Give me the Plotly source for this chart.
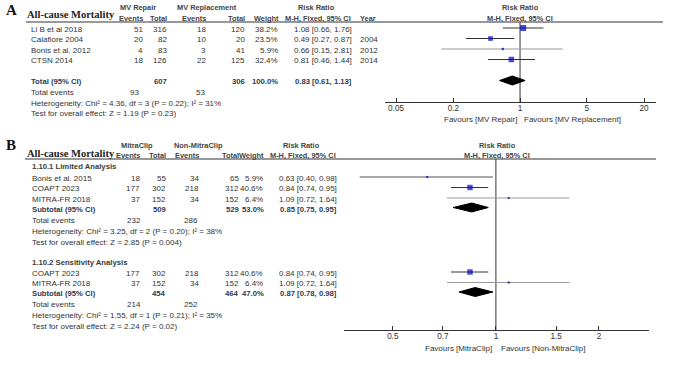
import math
import plotly.graph_objects as go

W, H = 686, 365
SANS = "Liberation Sans, Arial, sans-serif"
SERIF = "Liberation Serif, Times New Roman, serif"
TXT = "#333333"
TOT = "#2e3a52"
HDR = "#444444"
BLUE = "#0000c8"
FS = 8.0     # body font size
HS = 7.4     # bold header font size
BS = 7.7     # bold total-row font size

# ---------------- Panel A data ----------------
A_studies = ["Li B et al 2018", "Calafiore 2004", "Bonis et al. 2012", "CTSN 2014"]
A_ev1 = [51, 20, 4, 18]
A_tot1 = [316, 82, 83, 126]
A_ev2 = [18, 10, 3, 22]
A_tot2 = [120, 20, 41, 125]
A_weight = [38.2, 23.5, 5.9, 32.4]
A_rr = [1.08, 0.49, 0.66, 0.81]
A_lo = [0.66, 0.27, 0.15, 0.46]
A_hi = [1.76, 0.87, 2.81, 1.44]
A_year = ["", "2004", "2012", "2014"]
A_total = {"tot1": 607, "tot2": 306, "weight": 100.0, "rr": 0.83, "lo": 0.61, "hi": 1.13,
           "ev1": 93, "ev2": 53}
A_het = "Heterogeneity: Chi² = 4.36, df = 3 (P = 0.22); I² = 31%"
A_test = "Test for overall effect: Z = 1.19 (P = 0.23)"
A_ticks = [0.05, 0.2, 1, 5, 20]
A_ticklabels = ["0.05", "0.2", "1", "5", "20"]

# ---------------- Panel B data ----------------
B1_studies = ["Bonis et al. 2015", "COAPT 2023", "MITRA-FR 2018"]
B1_ev1 = [18, 177, 37]
B1_tot1 = [55, 302, 152]
B1_ev2 = [34, 218, 34]
B1_tot2 = [65, 312, 152]
B1_weight = [5.9, 40.6, 6.4]
B1_rr = [0.63, 0.84, 1.09]
B1_lo = [0.40, 0.74, 0.72]
B1_hi = [0.98, 0.95, 1.64]
B1_sub = {"tot1": 509, "tot2": 529, "weight": 53.0, "rr": 0.85, "lo": 0.75, "hi": 0.95,
          "ev1": 232, "ev2": 286}
B1_het = "Heterogeneity: Chi² = 3.25, df = 2 (P = 0.20); I² = 38%"
B1_test = "Test for overall effect: Z = 2.85 (P = 0.004)"

B2_studies = ["COAPT 2023", "MITRA-FR 2018"]
B2_ev1 = [177, 37]
B2_tot1 = [302, 152]
B2_ev2 = [218, 34]
B2_tot2 = [312, 152]
B2_weight = [40.6, 6.4]
B2_rr = [0.84, 1.09]
B2_lo = [0.74, 0.72]
B2_hi = [0.95, 1.64]
B2_sub = {"tot1": 454, "tot2": 464, "weight": 47.0, "rr": 0.87, "lo": 0.78, "hi": 0.98,
          "ev1": 214, "ev2": 252}
B2_het = "Heterogeneity: Chi² = 1.55, df = 1 (P = 0.21); I² = 35%"
B2_test = "Test for overall effect: Z = 2.24 (P = 0.02)"
B_ticks = [0.5, 0.7, 1, 1.5, 2]
B_ticklabels = ["0.5", "0.7", "1", "1.5", "2"]

# ---------------- layout (pixel rows / columns) ----------------
A_rows = [29, 39.5, 50, 60.5]
A_total_row = 81.5
A_axis_y = 102
A_top_y = 22
B1_rows = [178, 188.5, 199]
B1_sub_row = 209
B2_rows = [273, 283.5]
B2_sub_row = 293.5
B_top_y = 159
B_axis_y = 330

A_line_col = ["#333333", "#333333", "#999999", "#333333"]
B1_line_col = ["#555555", "#333333", "#999999"]
B2_line_col = ["#333333", "#999999"]

fig = go.Figure()


def txt(x, y, s, anchor="left", bold=False, color=TXT, size=FS, family=SANS):
    fig.add_annotation(x=x / W, y=y, xref="paper", yref="y",
                       text=("<b>%s</b>" % s) if bold else s, showarrow=False,
                       xanchor=anchor, yanchor="middle", borderpad=0, borderwidth=0,
                       font=dict(family=family, size=size, color=color))


def hline(x0, x1, y):
    fig.add_shape(type="line", xref="paper", yref="y", x0=x0 / W, x1=x1 / W, y0=y, y1=y,
                  line=dict(color="#333333", width=1))


def forest(xa, rows, rr, lo, hi, weight, cols, k):
    for i in range(len(rr)):
        fig.add_trace(go.Scatter(x=[lo[i], hi[i]], y=[rows[i] - 1, rows[i] - 1], mode="lines",
                                 xaxis=xa, yaxis="y", line=dict(color=cols[i], width=1),
                                 hoverinfo="skip", showlegend=False))
    fig.add_trace(go.Scatter(x=rr, y=[r - 1 for r in rows], mode="markers", xaxis=xa, yaxis="y",
                             marker=dict(symbol="square", color=BLUE,
                                         size=[max(2.2, k * math.sqrt(w)) for w in weight],
                                         line=dict(width=0)),
                             hoverinfo="skip", showlegend=False))


def diamond(xa, row, est, lo, hi, h=4.5):
    fig.add_trace(go.Scatter(x=[lo, est, hi, est, lo], y=[row, row - h, row, row + h, row],
                             mode="lines", fill="toself", fillcolor="black",
                             line=dict(color="black", width=1), xaxis=xa, yaxis="y",
                             hoverinfo="skip", showlegend=False))


# ================= Panel A =================
fig.add_trace(go.Scatter(x=[1, 1], y=[A_top_y, A_axis_y], mode="lines", xaxis="x", yaxis="y",
                         line=dict(color="#333333", width=1), hoverinfo="skip", showlegend=False))
forest("x", A_rows, A_rr, A_lo, A_hi, A_weight, A_line_col, 0.97)
diamond("x", A_total_row - 1, A_total["rr"], A_total["lo"], A_total["hi"])
hline(26, 663, A_top_y)

txt(6, 10, "A", bold=True, size=15, family=SERIF, color="#111111")
txt(27, 14, "All-cause Mortality", bold=True, size=10.5, family=SERIF, color="#222222")
txt(138, 7, "MV Repair", "center", bold=True, size=HS, color=HDR)
txt(207, 7, "MV Replacement", "center", bold=True, size=HS, color=HDR)
txt(316, 7, "Risk Ratio", "center", bold=True, size=HS, color=HDR)
txt(520, 7, "Risk Ratio", "center", bold=True, size=HS, color=HDR)
for xr, s in [(143, "Events"), (167, "Total"), (206, "Events"), (245, "Total"), (279, "Weight")]:
    txt(xr, 18, s, "right", bold=True, size=HS, color=HDR)
txt(318, 18, "M-H, Fixed, 95% CI", "center", bold=True, size=HS, color=HDR)
txt(360, 18, "Year", bold=True, size=HS, color=HDR)
txt(520, 18, "M-H, Fixed, 95% CI", "center", bold=True, size=HS, color=HDR)

for i, r in enumerate(A_rows):
    txt(31, r, A_studies[i])
    txt(143, r, str(A_ev1[i]), "right")
    txt(167, r, str(A_tot1[i]), "right")
    txt(206, r, str(A_ev2[i]), "right")
    txt(245, r, str(A_tot2[i]), "right")
    txt(278, r, "%.1f%%" % A_weight[i], "right")
    txt(352, r, "%.2f [%.2f, %.2f]" % (A_rr[i], A_lo[i], A_hi[i]), "right")
    txt(360, r, A_year[i])
r = A_total_row
txt(31, r, "Total (95% CI)", bold=True, color=TOT, size=BS)
txt(167, r, str(A_total["tot1"]), "right", bold=True, color=TOT, size=BS)
txt(245, r, str(A_total["tot2"]), "right", bold=True, color=TOT, size=BS)
txt(278, r, "%.1f%%" % A_total["weight"], "right", bold=True, color=TOT, size=BS)
txt(352, r, "%.2f [%.2f, %.2f]" % (A_total["rr"], A_total["lo"], A_total["hi"]), "right",
    bold=True, color=TOT, size=BS)
txt(31, 92.5, "Total events")
txt(139, 92.5, str(A_total["ev1"]), "right")
txt(205, 92.5, str(A_total["ev2"]), "right")
txt(31, 103, A_het)
txt(31, 113.5, A_test)
txt(517, 119.5, "Favours [MV Repair]", "right")
txt(524, 119.5, "Favours [MV Replacement]", "left")

# ================= Panel B =================
fig.add_trace(go.Scatter(x=[1, 1], y=[B_top_y, B_axis_y], mode="lines", xaxis="x2", yaxis="y",
                         line=dict(color="#333333", width=1), hoverinfo="skip", showlegend=False))
forest("x2", B1_rows, B1_rr, B1_lo, B1_hi, B1_weight, B1_line_col, 0.85)
diamond("x2", B1_sub_row - 1.5, B1_sub["rr"], B1_sub["lo"], B1_sub["hi"])
forest("x2", B2_rows, B2_rr, B2_lo, B2_hi, B2_weight, B2_line_col, 0.85)
diamond("x2", B2_sub_row - 1.5, B2_sub["rr"], B2_sub["lo"], B2_sub["hi"])
hline(25, 656, B_top_y)

txt(6, 145, "B", bold=True, size=15, family=SERIF, color="#111111")
txt(27, 153, "All-cause Mortality", bold=True, size=10.5, family=SERIF, color="#222222")
txt(137, 145, "MitraClip", "center", bold=True, size=HS, color=HDR)
txt(198, 145, "Non-MitraClip", "center", bold=True, size=HS, color=HDR)
txt(301, 145, "Risk Ratio", "center", bold=True, size=HS, color=HDR)
txt(497, 145, "Risk Ratio", "center", bold=True, size=HS, color=HDR)
for xr, s in [(140, "Events"), (166, "Total"), (199, "Events"), (238.5, "Total"), (264, "Weight")]:
    txt(xr, 155, s, "right", bold=True, size=HS, color=HDR)
txt(303, 155, "M-H, Fixed, 95% CI", "center", bold=True, size=HS, color=HDR)
txt(497, 155, "M-H, Fixed, 95% CI", "center", bold=True, size=HS, color=HDR)


def subgroup(title, ty, studies, ev1, tot1, ev2, tot2, weight, rr, lo, hi, rows, sub, srow, het, test):
    txt(32, ty, title, bold=True, color="#3a3a3a", size=BS)
    for i, r in enumerate(rows):
        txt(32, r, studies[i])
        txt(140, r, str(ev1[i]), "right")
        txt(166, r, str(tot1[i]), "right")
        txt(199, r, str(ev2[i]), "right")
        txt(238.5, r, str(tot2[i]), "right")
        txt(263, r, "%.1f%%" % weight[i], "right")
        txt(337, r, "%.2f [%.2f, %.2f]" % (rr[i], lo[i], hi[i]), "right")
    txt(32, srow, "Subtotal (95% CI)", bold=True, color=TOT, size=BS)
    txt(166, srow, str(sub["tot1"]), "right", bold=True, color=TOT, size=BS)
    txt(238.5, srow, str(sub["tot2"]), "right", bold=True, color=TOT, size=BS)
    txt(263.5, srow, "%.1f%%" % sub["weight"], "right", bold=True, color=TOT, size=BS)
    txt(337, srow, "%.2f [%.2f, %.2f]" % (sub["rr"], sub["lo"], sub["hi"]), "right",
        bold=True, color=TOT, size=BS)
    txt(32, srow + 11, "Total events")
    txt(141, srow + 11, str(sub["ev1"]), "right")
    txt(198, srow + 11, str(sub["ev2"]), "right")
    txt(32, srow + 22, het)
    txt(32, srow + 33, test)


subgroup("1.10.1 Limited Analysis", 166, B1_studies, B1_ev1, B1_tot1, B1_ev2, B1_tot2, B1_weight,
         B1_rr, B1_lo, B1_hi, B1_rows, B1_sub, B1_sub_row, B1_het, B1_test)
subgroup("1.10.2 Sensitivity Analysis", 262.5, B2_studies, B2_ev1, B2_tot1, B2_ev2, B2_tot2, B2_weight,
         B2_rr, B2_lo, B2_hi, B2_rows, B2_sub, B2_sub_row, B2_het, B2_test)
txt(492, 348.5, "Favours [MitraClip]", "right")
txt(501, 348.5, "Favours [Non-MitraClip]", "left")

axis_common = dict(type="log", anchor="free", showline=True, linecolor="#333333", linewidth=1,
                   ticks="inside", ticklen=4, tickcolor="#333333", tickwidth=1,
                   showgrid=False, zeroline=False, fixedrange=True, ticklabelstandoff=-2,
                   tickfont=dict(family=SANS, size=8.2, color=TXT))
fig.update_layout(
    width=W, height=H, margin=dict(l=0, r=0, t=0, b=0),
    paper_bgcolor="white", plot_bgcolor="rgba(0,0,0,0)", showlegend=False,
    xaxis=dict(axis_common, domain=[385 / W, 656 / W], position=1 - A_axis_y / H,
               range=[math.log10(0.0383), math.log10(26.7)],
               tickvals=A_ticks, ticktext=A_ticklabels),
    xaxis2=dict(axis_common, domain=[344 / W, 649 / W], position=1 - B_axis_y / H,
                range=[math.log10(0.36), math.log10(2.8)],
                tickvals=B_ticks, ticktext=B_ticklabels),
    yaxis=dict(range=[H, 0], domain=[0, 1], visible=False, fixedrange=True),
)

fig.write_html("out.html")
